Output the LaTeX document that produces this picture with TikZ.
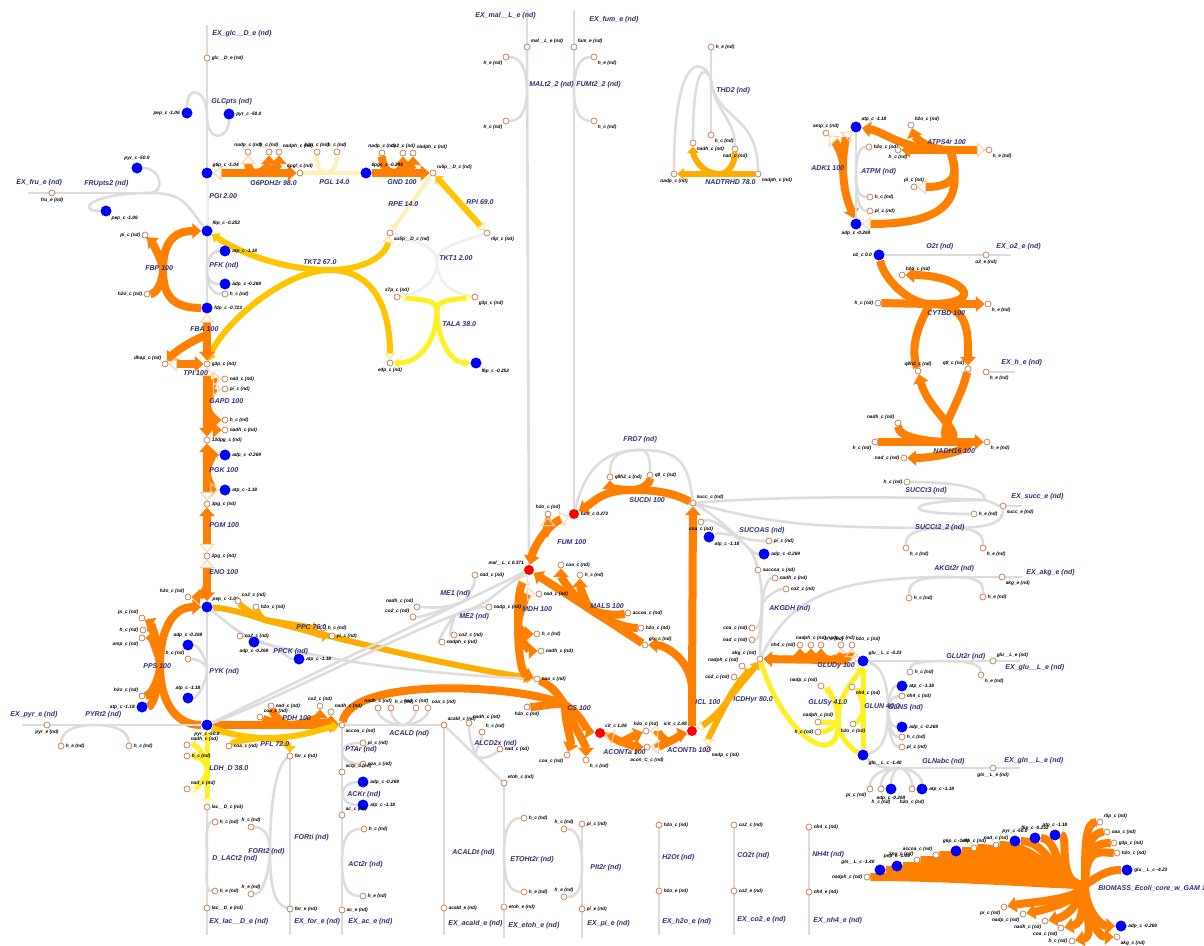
\documentclass[tikz,border=0pt]{standalone}
\usepackage{fontspec}
\setmainfont{Liberation Sans}
\usepackage{tikz}
\usetikzlibrary{arrows.meta}
\definecolor{rxnnavy}{HTML}{2E2E7A}
\definecolor{fluxor}{HTML}{FF7F00}
\definecolor{fluxam}{HTML}{FFAE00}
\definecolor{fluxgold}{HTML}{FFC400}
\definecolor{fluxye}{HTML}{FFF126}
\definecolor{fluxpale}{HTML}{FFF0B5}
\definecolor{ndgray}{HTML}{DCDCDC}
\definecolor{faintgray}{HTML}{F0F0F0}
\definecolor{metedge}{HTML}{C47A4E}
\definecolor{metblue}{HTML}{0000FF}
\definecolor{metred}{HTML}{FF0000}
\colorlet{revor}{fluxor!35}
\colorlet{revam}{fluxgold!45}
\colorlet{revye}{fluxye!60}
\pgfdeclarelayer{lines}
\pgfsetlayers{lines,main}
\catcode`\_=12

\begin{document}
\begin{tikzpicture}[x=0.5pt, y=-0.5pt,
    met/.style={circle, draw=metedge, fill=white, line width=0.35pt, inner sep=0pt, minimum size=3pt},
    mblue/.style={circle, fill=metblue, inner sep=0pt, minimum size=5.5pt},
    mred/.style={circle, fill=metred, inner sep=0pt, minimum size=5pt},
    mlab/.style={font=\fontsize{2.4}{2.6}\selectfont\bfseries\itshape, text=black, inner sep=0.5pt},
    rlab/.style={font=\fontsize{3.5}{4}\selectfont\bfseries\itshape, text=rxnnavy, inner sep=0pt, anchor=west},
    nd/.style={draw=ndgray, line width=1.3pt},
    faint/.style={draw=faintgray, line width=1.5pt},
    f100/.style={draw=fluxor, line width=4pt},
    f78/.style={draw=fluxam, line width=3pt},
    f70/.style={draw=fluxgold, line width=3pt},
    f38/.style={draw=fluxye, line width=2.5pt},
    f14/.style={draw=fluxpale, line width=2pt},
    fwd/.style={-{Triangle[length=0pt 1.1, width=0pt 1.9]}},
    back/.style={{Triangle[open, color=revor, line width=0.5pt, length=4.4pt, width=7.6pt]}-},
    dual/.style={{Triangle[open, color=revor, line width=0.5pt, length=4.4pt, width=7.6pt]}-{Triangle[length=4.4pt, width=7.6pt]}},
    backam/.style={{Triangle[open, color=revam, line width=0.5pt, length=3.3pt, width=5.7pt]}-},
    dualam/.style={{Triangle[open, color=revam, line width=0.5pt, length=3.3pt, width=5.7pt]}-{Triangle[length=3.3pt, width=5.7pt]}},
    backye/.style={{Triangle[open, color=revye, line width=0.5pt, length=2.8pt, width=4.8pt]}-},
    dualye/.style={{Triangle[open, color=revye, line width=0.5pt, length=2.8pt, width=4.8pt]}-{Triangle[length=2.8pt, width=4.8pt]}},
    dualpa/.style={{Triangle[open, color=fluxpale, line width=0.5pt, length=2.2pt, width=3.8pt]}-{Triangle[length=2.2pt, width=3.8pt]}}
  ]
  \useasboundingbox (0,0) rectangle (1204,946);

  % glycolysis and pentose phosphate
  \node[met, label={[mlab]right:glc__D_e (nd)}] (glce) at (207,58) {};
  \node[mblue, label={[mlab]left:pep_c -1.06}] (pepA) at (187,113) {};
  \node[mblue, label={[mlab]right:pyr_c -50.0}] (pyrA) at (229,114) {};
  \node[mblue, label={[mlab]above right:g6p_c -1.04}] (g6p) at (207,173) {};
  \node[met, label={[mlab]above:nadp_c (nd)}] (nadpA) at (248,152) {};
  \node[met, label={[mlab]above:h_c (nd)}] (hA) at (269,152) {};
  \node[met, label={[mlab]above right:nadph_c (nd)}] (nadphA) at (279,152) {};
  \node[met, label={[mlab]above:6pgl_c (nd)}] (pgl6) at (300,173) {};
  \node[met, label={[mlab]above:h2o_c (nd)}] (h2oA) at (317,152) {};
  \node[met, label={[mlab]above:h_c (nd)}] (hB) at (337,152) {};
  \node[mblue, label={[mlab]above right:6pgc_c -0.295}] (pgc6) at (366,173) {};
  \node[met, label={[mlab]above:nadp_c (nd)}] (nadpB) at (382,153) {};
  \node[met, label={[mlab]above:co2_c (nd)}] (co2A) at (403,153) {};
  \node[met, label={[mlab]above right:nadph_c (nd)}] (nadphB) at (413,153) {};
  \node[met, label={[mlab]above right:ru5p__D_c (nd)}] (ru5p) at (433,173) {};
  \node[met, label={[mlab]below right:xu5p__D_c (nd)}] (xu5p) at (390,233) {};
  \node[met, label={[mlab]below right:r5p_c (nd)}] (r5p) at (487,233) {};
  \node[met, label={[mlab]above:s7p_c (nd)}] (s7p) at (397,297) {};
  \node[met, label={[mlab]below right:g3p_c (nd)}] (g3pB) at (475,297) {};
  \node[met, label={[mlab]below:e4p_c (nd)}] (e4p) at (390,363) {};
  \node[mblue, label={[mlab]below right:f6p_c -0.252}] (f6pB) at (476,363) {};
  \node[mblue, label={[mlab]above right:f6p_c -0.252}] (f6p) at (207,231) {};
  \node[met, label={[mlab]below:fru_e (nd)}] (frue) at (52,193) {};
  \node[mblue, label={[mlab]above:pyr_c -50.0}] (pyrB) at (137,168) {};
  \node[mblue, label={[mlab]below right:pep_c -1.06}] (pepB) at (106,211) {};
  \node[mblue, label={[mlab]right:atp_c -1.18}] (atpA) at (225,251) {};
  \node[mblue, label={[mlab]right:adp_c -0.269}] (adpA) at (225,284) {};
  \node[met, label={[mlab]right:h_c (nd)}] (hC) at (225,294) {};
  \node[met, label={[mlab]left:pi_c (nd)}] (piA) at (145,235) {};
  \node[met, label={[mlab]left:h2o_c (nd)}] (h2oB) at (147,294) {};
  \node[mblue, label={[mlab]right:fdp_c -0.723}] (fdp) at (207,308) {};
  \node[met, label={[mlab]above left:dhap_c (nd)}] (dhap) at (165,364) {};
  \node[met, label={[mlab]right:g3p_c (nd)}] (g3p) at (207,364) {};
  \node[met, label={[mlab]right:nad_c (nd)}] (nadA) at (225,379) {};
  \node[met, label={[mlab]right:pi_c (nd)}] (piB) at (225,389) {};
  \node[met, label={[mlab]right:h_c (nd)}] (hD) at (225,420) {};
  \node[met, label={[mlab]right:nadh_c (nd)}] (nadhA) at (225,430) {};
  \node[met, label={[mlab]right:13dpg_c (nd)}] (dpg13) at (207,440) {};
  \node[mblue, label={[mlab]right:adp_c -0.269}] (adpB) at (225,455) {};
  \node[mblue, label={[mlab]right:atp_c -1.18}] (atpB) at (225,490) {};
  \node[met, label={[mlab]right:3pg_c (nd)}] (pg3) at (207,504) {};
  \node[met, label={[mlab]right:2pg_c (nd)}] (pg2) at (207,556) {};
  \node[met, label={[mlab]above left:h2o_c (nd)}] (h2oC) at (188,597) {};
  \node[mblue, label={[mlab]above right:pep_c -1.06}] (pep) at (207,607) {};
  \node[met, label={[mlab]above right:co2_c (nd)}] (co2B) at (238,601) {};
  \node[met, label={[mlab]right:h2o_c (nd)}] (h2oD) at (256,607) {};
  \node[met, label={[mlab]right:h_c (nd)}] (hE) at (323,628) {};
  \node[met, label={[mlab]right:pi_c (nd)}] (piC) at (332,636) {};
  \node[met, label={[mlab]right:co2_c (nd)}] (co2C) at (240,636) {};
  \node[mblue, label={[mlab]below:adp_c -0.269}] (adpP) at (254,642) {};
  \node[mblue, label={[mlab]right:atp_c -1.18}] (atpC) at (299,659) {};
  \node[met, label={[mlab]above left:pi_c (nd)}] (piD) at (142,618) {};
  \node[met, label={[mlab]left:h_c (nd)}] (hF) at (143,630) {};
  \node[met, label={[mlab]below left:amp_c (nd)}] (ampA) at (142,638) {};
  \node[met, label={[mlab]above left:h2o_c (nd)}] (h2oE) at (142,696) {};
  \node[mblue, label={[mlab]left:atp_c -1.18}] (atpD) at (142,707) {};
  \node[mblue, label={[mlab]above:adp_c -0.269}] (adpC) at (188,645) {};
  \node[met, label={[mlab]above left:h_c (nd)}] (hG) at (188,659) {};
  \node[mblue, label={[mlab]above:atp_c -1.18}] (atpE) at (188,698) {};
  \node[mblue, label={[mlab]below:pyr_c -50.0}] (pyr) at (207,725) {};
  \node[met, label={[mlab]below:pyr_e (nd)}] (pyre) at (47,725) {};
  \node[met, label={[mlab]right:h_e (nd)}] (heA) at (61,746) {};
  \node[met, label={[mlab]right:h_c (nd)}] (hH) at (129,746) {};

  % pyruvate to fermentation products
  \node[met, label={[mlab]above right:coa_c (nd)}] (coaA) at (260,717) {};
  \node[met, label={[mlab]right:nad_c (nd)}] (nadB) at (271,706) {};
  \node[met, label={[mlab]above:co2_c (nd)}] (co2D) at (320,706) {};
  \node[met, label={[mlab]above right:nadh_c (nd)}] (nadhB) at (331,712) {};
  \node[met, label={[mlab]below right:accoa_c (nd)}] (accoa) at (342,725) {};
  \node[met, label={[mlab]right:coa_c (nd)}] (coaB) at (229,746) {};
  \node[met, label={[mlab]right:for_c (nd)}] (forc) at (290,756) {};
  \node[met, label={[mlab]above right:nadh_c (nd)}] (nadhC) at (187,745) {};
  \node[met, label={[mlab]right:h_c (nd)}] (hI) at (187,756) {};
  \node[met, label={[mlab]above right:nad_c (nd)}] (nadC) at (187,789) {};
  \node[met, label={[mlab]right:lac__D_c (nd)}] (lacc) at (207,807) {};
  \node[met, label={[mlab]right:h_c (nd)}] (hJ) at (215,822) {};
  \node[met, label={[mlab]right:h_e (nd)}] (heB) at (215,891) {};
  \node[met, label={[mlab]right:lac__D_e (nd)}] (lace) at (207,908) {};
  \node[met, label={[mlab]above:h_c (nd)}] (hK) at (251,827) {};
  \node[met, label={[mlab]above:h_e (nd)}] (heC) at (251,894) {};
  \node[met, label={[mlab]right:for_e (nd)}] (fore) at (290,909) {};
  \node[met, label={[mlab]right:pi_c (nd)}] (piE) at (363,743) {};
  \node[met, label={[mlab]right:coa_c (nd)}] (coaC) at (363,764) {};
  \node[met, label={[mlab]above right:actp_c (nd)}] (actp) at (342,772) {};
  \node[mblue, label={[mlab]right:adp_c -0.269}] (adpD) at (363,782) {};
  \node[mblue, label={[mlab]right:atp_c -1.18}] (atpF) at (363,805) {};
  \node[met, label={[mlab]above right:ac_c (nd)}] (acc) at (342,815) {};
  \node[met, label={[mlab]right:h_c (nd)}] (hL) at (364,829) {};
  \node[met, label={[mlab]right:h_e (nd)}] (heD) at (363,896) {};
  \node[met, label={[mlab]right:ac_e (nd)}] (ace) at (342,910) {};
  \node[met, label={[mlab]above:nadh_c (nd)}] (nadhD) at (378,708) {};
  \node[met, label={[mlab]above right:h_c (nd)}] (hM) at (391,708) {};
  \node[met, label={[mlab]above:nad_c (nd)}] (nadD) at (416,708) {};
  \node[met, label={[mlab]above right:coa_c (nd)}] (coaD) at (428,708) {};
  \node[met, label={[mlab]above right:acald_c (nd)}] (acald) at (444,725) {};
  \node[met, label={[mlab]above right:nadh_c (nd)}] (nadhE) at (469,723) {};
  \node[met, label={[mlab]above right:h_c (nd)}] (hN) at (482,732) {};
  \node[met, label={[mlab]right:nad_c (nd)}] (nadE) at (500,749) {};
  \node[met, label={[mlab]above right:etoh_c (nd)}] (etoh) at (504,783) {};
  \node[met, label={[mlab]right:acald_e (nd)}] (acalde) at (444,908) {};
  \node[met, label={[mlab]right:h_c (nd)}] (hO) at (524,818) {};
  \node[met, label={[mlab]right:h_e (nd)}] (heE) at (524,892) {};
  \node[met, label={[mlab]right:etoh_e (nd)}] (etohe) at (504,907) {};
  \node[met, label={[mlab]above:h_c (nd)}] (hP) at (564,829) {};
  \node[met, label={[mlab]right:pi_c (nd)}] (piF) at (582,824) {};
  \node[met, label={[mlab]above:h_e (nd)}] (heF) at (564,897) {};
  \node[met, label={[mlab]right:pi_e (nd)}] (pie) at (582,909) {};
  \node[met, label={[mlab]right:h2o_c (nd)}] (h2oF) at (659,825) {};
  \node[met, label={[mlab]right:h2o_e (nd)}] (h2oe) at (659,891) {};
  \node[met, label={[mlab]right:co2_c (nd)}] (co2E) at (734,825) {};
  \node[met, label={[mlab]right:co2_e (nd)}] (co2e) at (734,891) {};
  \node[met, label={[mlab]right:nh4_c (nd)}] (nh4A) at (809,827) {};
  \node[met, label={[mlab]right:nh4_e (nd)}] (nh4e) at (809,892) {};

  % transport at the top
  \node[met, label={[mlab]above right:mal__L_e (nd)}] (malLe) at (527,47) {};
  \node[met, label={[mlab]above right:fum_e (nd)}] (fume) at (574,47) {};
  \node[met, label={[mlab]below left:h_e (nd)}] (heG) at (506,57) {};
  \node[met, label={[mlab]below left:h_c (nd)}] (hQ) at (506,121) {};
  \node[met, label={[mlab]below right:h_e (nd)}] (heH) at (594,57) {};
  \node[met, label={[mlab]below right:h_c (nd)}] (hR) at (594,121) {};
  \node[met, label={[mlab]right:h_e (nd)}] (heI) at (711,47) {};
  \node[met, label={[mlab]below right:h_c (nd)}] (hS) at (711,135) {};
  \node[met, label={[mlab]below right:nadh_c (nd)}] (nadhF) at (693,143) {};
  \node[met, label={[mlab]below:nad_c (nd)}] (nadF) at (735,149) {};
  \node[met, label={[mlab]below:nadp_c (nd)}] (nadpC) at (674,174) {};
  \node[met, label={[mlab]below right:nadph_c (nd)}] (nadphC) at (758,174) {};

  % energy
  \node[met, label={[mlab]above:amp_c (nd)}] (ampB) at (826,133) {};
  \node[mblue, label={[mlab]above right:atp_c -1.18}] (atpG) at (856,127) {};
  \node[mblue, label={[mlab]below:adp_c -0.269}] (adpE) at (856,224) {};
  \node[met, label={[mlab]right:h2o_c (nd)}] (h2oG) at (869,147) {};
  \node[met, label={[mlab]below:h_c (nd)}] (hT) at (898,150) {};
  \node[met, label={[mlab]right:h_c (nd)}] (hU) at (870,197) {};
  \node[met, label={[mlab]right:pi_c (nd)}] (piG) at (870,211) {};
  \node[met, label={[mlab]above right:h2o_c (nd)}] (h2oH) at (911,125) {};
  \node[met, label={[mlab]below right:h_e (nd)}] (heJ) at (989,150) {};
  \node[met, label={[mlab]above:pi_c (nd)}] (piH) at (914,187) {};
  \node[mblue, label={[mlab]left:o2_c 0.0}] (o2c) at (879,255) {};
  \node[met, label={[mlab]below:o2_e (nd)}] (o2e) at (986,255) {};
  \node[met, label={[mlab]above right:h2o_c (nd)}] (h2oI) at (902,275) {};
  \node[met, label={[mlab]left:h_c (nd)}] (hV) at (878,303) {};
  \node[met, label={[mlab]below right:h_e (nd)}] (heK) at (988,304) {};
  \node[met, label={[mlab]above:q8h2_c (nd)}] (q8h2) at (918,371) {};
  \node[met, label={[mlab]above left:q8_c (nd)}] (q8) at (968,369) {};
  \node[met, label={[mlab]below right:h_e (nd)}] (heL) at (986,372) {};
  \node[met, label={[mlab]above left:nadh_c (nd)}] (nadhG) at (898,423) {};
  \node[met, label={[mlab]below left:h_c (nd)}] (hW) at (875,442) {};
  \node[met, label={[mlab]left:nad_c (nd)}] (nadG) at (904,458) {};
  \node[met, label={[mlab]below right:h_e (nd)}] (heM) at (987,442) {};
  \node[met, label={[mlab]left:h_c (nd)}] (hX) at (907,482) {};
  \node[met, label={[mlab]right:h_e (nd)}] (heN) at (974,514) {};
  \node[met, label={[mlab]below right:succ_e (nd)}] (succe) at (1003,506) {};
  \node[met, label={[mlab]below right:h_c (nd)}] (hY) at (906,548) {};
  \node[met, label={[mlab]below right:h_e (nd)}] (heO) at (983,548) {};
  \node[met, label={[mlab]below right:akg_e (nd)}] (akge) at (1002,577) {};
  \node[met, label={[mlab]right:h_c (nd)}] (hZ) at (909,598) {};
  \node[met, label={[mlab]right:h_e (nd)}] (heP) at (983,597) {};

  % TCA cycle
  \node[mred, label={[mlab]right:fum_c 0.272}] (fum) at (574,514) {};
  \node[met, label={[mlab]above:h2o_c (nd)}] (h2oK) at (548,514) {};
  \node[mred, label={[mlab]above left:mal__L_c 0.371}] (mal) at (529,570) {};
  \node[met, label={[mlab]right:coa_c (nd)}] (coaG) at (561,565) {};
  \node[met, label={[mlab]right:h_c (nd)}] (hAA) at (580,575) {};
  \node[met, label={[mlab]right:nad_c (nd)}] (nadJ) at (539,594) {};
  \node[met, label={[mlab]right:nad_c (nd)}] (nadK) at (475,575) {};
  \node[met, label={[mlab]above left:nadh_c (nd)}] (nadhI) at (417,607) {};
  \node[met, label={[mlab]above left:co2_c (nd)}] (co2H) at (413,617) {};
  \node[met, label={[mlab]right:nadp_c (nd)}] (nadpE) at (489,607) {};
  \node[met, label={[mlab]right:co2_c (nd)}] (co2I) at (454,635) {};
  \node[met, label={[mlab]right:nadph_c (nd)}] (nadphE) at (442,642) {};
  \node[met, label={[mlab]right:h_c (nd)}] (hAB) at (537,634) {};
  \node[met, label={[mlab]right:nadh_c (nd)}] (nadhJ) at (541,651) {};
  \node[met, label={[mlab]right:accoa_c (nd)}] (accoaB) at (628,613) {};
  \node[met, label={[mlab]right:h2o_c (nd)}] (h2oL) at (641,628) {};
  \node[met, label={[mlab]above right:glx_c (nd)}] (glx) at (645,645) {};
  \node[met, label={[mlab]right:oaa_c (nd)}] (oaa) at (537,679) {};
  \node[met, label={[mlab]below:h2o_c (nd)}] (h2oM) at (527,707) {};
  \node[met, label={[mlab]below left:coa_c (nd)}] (coaH) at (567,755) {};
  \node[met, label={[mlab]below right:h_c (nd)}] (hAC) at (586,760) {};
  \node[mred, label={[mlab]above right:cit_c 1.08}] (cit) at (600,733) {};
  \node[met, label={[mlab]above:h2o_c (nd)}] (h2oJ) at (646,731) {};
  \node[met, label={[mlab, yshift=-3pt]below:acon_C_c (nd)}] (aconC) at (647,747) {};
  \node[mred, label={[mlab]above left:icit_c 2.48}] (icit) at (692,731) {};
  \node[met, label={[mlab]below right:nadp_c (nd)}] (nadpD) at (708,749) {};
  \node[met, label={[mlab]left:co2_c (nd)}] (co2F) at (734,677) {};
  \node[met, label={[mlab]above left:nadph_c (nd)}] (nadphD) at (742,666) {};
  \node[met, label={[mlab]above left:akg_c (nd)}] (akg) at (760,659) {};
  \node[met, label={[mlab]left:coa_c (nd)}] (coaE) at (752,628) {};
  \node[met, label={[mlab]left:nad_c (nd)}] (nadI) at (752,640) {};
  \node[met, label={[mlab]right:succoa_c (nd)}] (succoa) at (758,570) {};
  \node[met, label={[mlab]right:nadh_c (nd)}] (nadhH) at (775,578) {};
  \node[met, label={[mlab]right:co2_c (nd)}] (co2G) at (786,589) {};
  \node[met, label={[mlab]below:coa_c (nd)}] (coaF) at (701,522) {};
  \node[mblue, label={[mlab]below right:atp_c -1.18}] (atpH) at (709,537) {};
  \node[met, label={[mlab]right:pi_c (nd)}] (piI) at (769,541) {};
  \node[mblue, label={[mlab]right:adp_c -0.269}] (adpF) at (764,554) {};
  \node[met, label={[mlab]above right:succ_c (nd)}] (succ) at (693,503) {};
  \node[met, label={[mlab]right:q8h2_c (nd)}] (q8h2B) at (610,477) {};
  \node[met, label={[mlab]right:q8_c (nd)}] (q8B) at (650,475) {};

  % glutamate and glutamine
  \node[mblue, label={[mlab]above right:glu__L_c -4.23}] (glu) at (863,661) {};
  \node[met, label={[mlab]left:nh4_c (nd)}] (nh4B) at (800,645) {};
  \node[met, label={[mlab]above:nadph_c (nd)}] (nadphH) at (811,645) {};
  \node[met, label={[mlab]above right:h_c (nd)}] (hAI) at (821,645) {};
  \node[met, label={[mlab]above:nadp_c (nd)}] (nadpH) at (841,645) {};
  \node[met, label={[mlab]above right:h2o_c (nd)}] (h2oQ) at (852,645) {};
  \node[met, label={[mlab]above left:nadp_c (nd)}] (nadpF) at (821,686) {};
  \node[met, label={[mlab]above:nadph_c (nd)}] (nadphF) at (818,722) {};
  \node[met, label={[mlab]left:h_c (nd)}] (hAD) at (818,732) {};
  \node[met, label={[mlab]below right:nh4_c (nd)}] (nh4C) at (852,687) {};
  \node[met, label={[mlab]below:h2o_c (nd)}] (h2oN) at (853,724) {};
  \node[mblue, label={[mlab]below right:gln__L_c -1.40}] (gln) at (863,755) {};
  \node[mblue, label={[mlab]right:atp_c -1.18}] (atpI) at (902,686) {};
  \node[met, label={[mlab]right:nh4_c (nd)}] (nh4D) at (902,696) {};
  \node[mblue, label={[mlab]right:adp_c -0.269}] (adpG) at (902,727) {};
  \node[met, label={[mlab]right:h_c (nd)}] (hAE) at (902,737) {};
  \node[met, label={[mlab]right:pi_c (nd)}] (piJ) at (902,747) {};
  \node[met, label={[mlab]right:h_c (nd)}] (hAF) at (910,672) {};
  \node[met, label={[mlab]below right:h_e (nd)}] (heQ) at (981,675) {};
  \node[met, label={[mlab]above right:glu__L_e (nd)}] (glue) at (993,661) {};
  \node[met, label={[mlab]below:gln__L_e (nd)}] (glne) at (993,768) {};
  \node[met, label={[mlab]below left:pi_c (nd)}] (piK) at (870,789) {};
  \node[met, label={[mlab, yshift=-3pt]below:h_c (nd)}] (hAG) at (881,789) {};
  \node[mblue, label={[mlab]below:adp_c -0.269}] (adpH) at (891,789) {};
  \node[met, label={[mlab, yshift=-3pt]below:h2o_c (nd)}] (h2oO) at (912,789) {};
  \node[mblue, label={[mlab]right:atp_c -1.18}] (atpJ) at (922,789) {};

  % biomass
  \node[met, label={[mlab]left:nadph_c (nd)}] (nadphG) at (867,877) {};
  \node[mblue, label={[mlab]above left:gln__L_c -1.40}] (glnB) at (880,870) {};
  \node[mblue, label={[mlab]above:pep_c -1.06}] (pepC) at (897,866) {};
  \node[met, label={[mlab]above left:3pg_c (nd)}] (pg3B) at (917,860) {};
  \node[met, label={[mlab]above left:accoa_c (nd)}] (accoaC) at (936,855) {};
  \node[mblue, label={[mlab]above:g6p_c -1.04}] (g6pB) at (956,851) {};
  \node[met, label={[mlab]above:e4p_c (nd)}] (e4pB) at (974,848) {};
  \node[met, label={[mlab]above:nad_c (nd)}] (nadL) at (996,845) {};
  \node[mblue, label={[mlab]above:pyr_c -50.0}] (pyrC) at (1015,841) {};
  \node[mblue, label={[mlab]above:f6p_c -0.252}] (f6pC) at (1035,838) {};
  \node[mblue, label={[mlab]above:atp_c -1.18}] (atpK) at (1055,835) {};
  \node[met, label={[mlab]above right:r5p_c (nd)}] (r5pB) at (1100,822) {};
  \node[met, label={[mlab]right:oaa_c (nd)}] (oaaB) at (1107,832) {};
  \node[met, label={[mlab]right:g3p_c (nd)}] (g3pC) at (1114,843) {};
  \node[met, label={[mlab]right:h2o_c (nd)}] (h2oP) at (1117,853) {};
  \node[mblue, label={[mlab]right:glu__L_c -4.23}] (gluB) at (1127,870) {};
  \node[met, label={[mlab]below left:pi_c (nd)}] (piL) at (1004,907) {};
  \node[met, label={[mlab]below left:nadp_c (nd)}] (nadpG) at (1023,914) {};
  \node[met, label={[mlab]below left:nadh_c (nd)}] (nadhK) at (1045,921) {};
  \node[met, label={[mlab]below left:coa_c (nd)}] (coaI) at (1061,928) {};
  \node[met, label={[mlab]left:h_c (nd)}] (hAH) at (1072,941) {};
  \node[mblue, label={[mlab]right:adp_c -0.269}] (adpI) at (1121,926) {};
  \node[met, label={[mlab]below right:akg_c (nd)}] (akgB) at (1117,937) {};

  % reaction centres and free ends
  \coordinate (glcptsc) at (207,115);
  \coordinate (g6pdh) at (255,173);
  \coordinate (pglc) at (325,173);
  \coordinate (gndc) at (393,173);
  \coordinate (tkt1c) at (437,262);
  \coordinate (tkt2c) at (330,270);
  \coordinate (talac) at (437,310);
  \coordinate (frupc) at (150,193);
  \coordinate (pfkc) at (207,270);
  \coordinate (fbpc) at (163,270);
  \coordinate (fbac) at (207,335);
  \coordinate (gapdc) at (207,405);
  \coordinate (pgkc) at (207,472);
  \coordinate (enoc) at (207,585);
  \coordinate (ppcc) at (265,620);
  \coordinate (ppckc) at (270,645);
  \coordinate (ppsc) at (160,666);
  \coordinate (pykc) at (207,670);
  \coordinate (pyrtc) at (95,725);
  \coordinate (pdhc) at (290,725);
  \coordinate (pflc) at (265,738);
  \coordinate (ldhc) at (207,770);
  \coordinate (dlactc) at (207,860);
  \coordinate (fort2c) at (270,850);
  \coordinate (ptarc) at (342,752);
  \coordinate (ackrc) at (342,794);
  \coordinate (act2c) at (342,862);
  \coordinate (acaldc) at (403,725);
  \coordinate (alcdc) at (476,756);
  \coordinate (etohtc) at (504,855);
  \coordinate (pit2c) at (582,866);
  \coordinate (me1c) at (462,602);
  \coordinate (me2c) at (455,615);
  \coordinate (malt2c) at (527,90);
  \coordinate (fumt2c) at (574,90);
  \coordinate (thd2c) at (711,80);
  \coordinate (nadtrc) at (720,174);
  \coordinate (adk1c) at (843,165);
  \coordinate (atpmc) at (856,175);
  \coordinate (atps4c) at (950,150);
  \coordinate (cytc) at (930,304);
  \coordinate (nadhc) at (950,442);
  \coordinate (sc3) at (985,500);
  \coordinate (sc2) at (950,528);
  \coordinate (akgtc) at (950,577);
  \coordinate (fumc) at (544,536);
  \coordinate (mdhc) at (518,625);
  \coordinate (malsc) at (590,609);
  \coordinate (sucdc) at (632,490);
  \coordinate (frdc) at (640,450);
  \coordinate (csc) at (565,705);
  \coordinate (acac) at (622,742);
  \coordinate (acbc) at (668,742);
  \coordinate (iclc) at (692,690);
  \coordinate (icdc) at (728,700);
  \coordinate (akgdhc) at (762,605);
  \coordinate (sucoasc) at (735,535);
  \coordinate (gludyc) at (830,660);
  \coordinate (glusyc) at (838,722);
  \coordinate (glunc) at (863,710);
  \coordinate (glnsc) at (888,710);
  \coordinate (glutc) at (946,661);
  \coordinate (glnabc) at (900,768);
  \coordinate (bio) at (1085,885);
  \coordinate (glcend) at (207,25);
  \coordinate (fruend) at (28,193);
  \coordinate (pyrend) at (22,725);
  \coordinate (lacend) at (207,935);
  \coordinate (forend) at (290,935);
  \coordinate (acend) at (342,935);
  \coordinate (acaldend) at (444,935);
  \coordinate (etohend) at (504,938);
  \coordinate (piend) at (582,938);
  \coordinate (h2oend) at (659,935);
  \coordinate (co2end) at (734,935);
  \coordinate (nh4end) at (809,935);
  \coordinate (malend) at (527,10);
  \coordinate (fumend) at (574,10);
  \coordinate (o2end) at (1011,255);
  \coordinate (hexend) at (1015,372);
  \coordinate (succend) at (1022,506);
  \coordinate (akgend) at (1022,577);
  \coordinate (gluend) at (1020,661);
  \coordinate (glnend) at (1020,768);

  % reaction labels
  \node[rlab] (texglc) at (212,34) {EX_glc__D_e (nd)};
  \node[rlab] (tglcpts) at (211,102) {GLCpts (nd)};
  \node[rlab] (tg6pdh) at (250,183) {G6PDH2r 98.0};
  \node[rlab] (tpgl) at (319,182) {PGL 14.0};
  \node[rlab] (tgnd) at (387,182) {GND 100};
  \node[rlab] (trpe) at (388,204) {RPE 14.0};
  \node[rlab] (trpi) at (466,202) {RPI 69.0};
  \node[rlab] (ttkt1) at (439,258) {TKT1 2.00};
  \node[rlab] (ttkt2) at (303,262) {TKT2 67.0};
  \node[rlab] (ttala) at (442,324) {TALA 38.0};
  \node[rlab] (tpgi) at (209,196) {PGI 2.00};
  \node[rlab] (texfru) at (16,183) {EX_fru_e (nd)};
  \node[rlab] (tfrupts) at (84,184) {FRUpts2 (nd)};
  \node[rlab] (tpfk) at (209,266) {PFK (nd)};
  \node[rlab] (tfbp) at (145,268) {FBP 100};
  \node[rlab] (tfba) at (190,329) {FBA 100};
  \node[rlab] (ttpi) at (183,373) {TPI 100};
  \node[rlab] (tgapd) at (209,401) {GAPD 100};
  \node[rlab] (tpgk) at (209,470) {PGK 100};
  \node[rlab] (tpgm) at (209,525) {PGM 100};
  \node[rlab] (teno) at (209,572) {ENO 100};
  \node[rlab] (tppc) at (296,627) {PPC 76.0};
  \node[rlab] (tppck) at (273,652) {PPCK (nd)};
  \node[rlab] (tpps) at (143,666) {PPS 100};
  \node[rlab] (tpyk) at (209,672) {PYK (nd)};
  \node[rlab] (texpyr) at (10,715) {EX_pyr_e (nd)};
  \node[rlab] (tpyrt) at (85,715) {PYRt2 (nd)};
  \node[rlab] (tpdh) at (282,718) {PDH 100};
  \node[rlab] (tpfl) at (260,744) {PFL 72.0};
  \node[rlab] (tldh) at (209,768) {LDH_D 38.0};
  \node[rlab] (tdlact) at (212,859) {D_LACt2 (nd)};
  \node[rlab] (tfort2) at (248,852) {FORt2 (nd)};
  \node[rlab] (tforti) at (294,838) {FORti (nd)};
  \node[rlab] (texlac) at (209,922) {EX_lac__D_e (nd)};
  \node[rlab] (texfor) at (294,922) {EX_for_e (nd)};
  \node[rlab] (tacald) at (389,734) {ACALD (nd)};
  \node[rlab] (tptar) at (345,750) {PTAr (nd)};
  \node[rlab] (tackr) at (347,795) {ACKr (nd)};
  \node[rlab] (tact2) at (348,865) {ACt2r (nd)};
  \node[rlab] (texac) at (348,922) {EX_ac_e (nd)};
  \node[rlab] (talcd) at (474,744) {ALCD2x (nd)};
  \node[rlab] (tacaldt) at (452,853) {ACALDt (nd)};
  \node[rlab] (texacald) at (448,924) {EX_acald_e (nd)};
  \node[rlab] (tetoht) at (510,860) {ETOHt2r (nd)};
  \node[rlab] (texetoh) at (508,926) {EX_etoh_e (nd)};
  \node[rlab] (tpit2) at (590,868) {PIt2r (nd)};
  \node[rlab] (texpi) at (587,924) {EX_pi_e (nd)};
  \node[rlab] (th2ot) at (662,858) {H2Ot (nd)};
  \node[rlab] (texh2o) at (662,922) {EX_h2o_e (nd)};
  \node[rlab] (tco2t) at (737,856) {CO2t (nd)};
  \node[rlab] (texco2) at (737,920) {EX_co2_e (nd)};
  \node[rlab] (tnh4t) at (812,855) {NH4t (nd)};
  \node[rlab] (texnh4) at (813,921) {EX_nh4_e (nd)};
  \node[rlab] (tme1) at (440,594) {ME1 (nd)};
  \node[rlab] (tme2) at (459,617) {ME2 (nd)};
  \node[rlab] (tmdh) at (522,609) {MDH 100};
  \node[rlab] (tfum) at (557,542) {FUM 100};
  \node[rlab] (tsucdi) at (629,500) {SUCDi 100};
  \node[rlab] (tfrd) at (623,440) {FRD7 (nd)};
  \node[rlab] (tmals) at (590,606) {MALS 100};
  \node[rlab] (tcs) at (567,708) {CS 100};
  \node[rlab] (tacnta) at (603,752) {ACONTa 100};
  \node[rlab] (tacntb) at (667,750) {ACONTb 100};
  \node[rlab] (ticl) at (695,702) {ICL 100};
  \node[rlab] (ticd) at (733,700) {ICDHyr 80.0};
  \node[rlab] (tsucoas) at (739,531) {SUCOAS (nd)};
  \node[rlab] (takgdh) at (769,609) {AKGDH (nd)};
  \node[rlab] (tgludy) at (817,666) {GLUDy 100};
  \node[rlab] (tglusy) at (808,703) {GLUSy 41.0};
  \node[rlab] (tglun) at (864,706) {GLUN 40.0};
  \node[rlab] (tglns) at (888,708) {GLNS (nd)};
  \node[rlab] (tglut) at (946,657) {GLUt2r (nd)};
  \node[rlab] (texglu) at (1005,668) {EX_glu__L_e (nd)};
  \node[rlab] (tglnabc) at (922,762) {GLNabc (nd)};
  \node[rlab] (texgln) at (1004,761) {EX_gln__L_e (nd)};
  \node[rlab] (takgt) at (934,569) {AKGt2r (nd)};
  \node[rlab] (texakg) at (1026,573) {EX_akg_e (nd)};
  \node[rlab] (tsucct3) at (905,491) {SUCCt3 (nd)};
  \node[rlab] (tsucct2) at (915,528) {SUCCt2_2 (nd)};
  \node[rlab] (texsucc) at (1011,497) {EX_succ_e (nd)};
  \node[rlab] (tnadh16) at (933,451) {NADH16 100};
  \node[rlab] (texh) at (1001,363) {EX_h_e (nd)};
  \node[rlab] (tcytbd) at (927,313) {CYTBD 100};
  \node[rlab] (to2t) at (926,247) {O2t (nd)};
  \node[rlab] (texo2) at (996,247) {EX_o2_e (nd)};
  \node[rlab] (tatps4) at (927,142) {ATPS4r 100};
  \node[rlab] (tatpm) at (861,172) {ATPM (nd)};
  \node[rlab] (tadk1) at (811,168) {ADK1 100};
  \node[rlab] (tthd2) at (716,91) {THD2 (nd)};
  \node[rlab] (tnadtr) at (705,182) {NADTRHD 78.0};
  \node[rlab] (texmal) at (475,16) {EX_mal__L_e (nd)};
  \node[rlab] (texfum) at (589,20) {EX_fum_e (nd)};
  \node[rlab] (tmalt) at (529,85) {MALt2_2 (nd)};
  \node[rlab] (tfumt) at (576,85) {FUMt2_2 (nd)};
  \node[rlab] (tbiomass) at (1098,888) {BIOMASS_Ecoli_core_w_GAM 100};

  \begin{pgfonlayer}{lines}
    \fill[white] (0,0) rectangle (1204,946);
    % exchanges and transport
    \draw[nd] (glcend) -- (glce);
    \draw[nd] (fruend) -- (frue);
    \draw[nd] (pyrend) -- (pyre);
    \draw[nd] (lace) -- (lacend);
    \draw[nd] (fore) -- (forend);
    \draw[nd] (ace) -- (acend);
    \draw[nd] (acalde) -- (acaldend);
    \draw[nd] (etohe) -- (etohend);
    \draw[nd] (pie) -- (piend);
    \draw[nd] (h2oe) -- (h2oend);
    \draw[nd] (co2e) -- (co2end);
    \draw[nd] (nh4e) -- (nh4end);
    \draw[nd] (malend) -- (malLe);
    \draw[nd] (fumend) -- (fume);
    \draw[nd] (o2e) -- (o2end);
    \draw[nd] (heL) -- (hexend);
    \draw[nd] (succe) -- (succend);
    \draw[nd] (akge) -- (akgend);
    \draw[nd] (glue) -- (gluend);
    \draw[nd] (glne) -- (glnend);
    \draw[nd] (h2oF) -- (h2oe);
    \draw[nd] (co2E) -- (co2e);
    \draw[nd] (nh4A) -- (nh4e);
    \draw[nd] (malLe) -- (mal);
    \draw[nd] (heG) .. controls +(15,0) and +(0,-20) .. (malt2c);
    \draw[nd] (malt2c) .. controls +(0,20) and +(15,0) .. (hQ);
    \draw[nd] (fume) -- (fum);
    \draw[nd] (heH) .. controls +(-15,0) and +(0,-20) .. (fumt2c);
    \draw[nd] (fumt2c) .. controls +(0,20) and +(-15,0) .. (hR);

    % glucose uptake and glycolysis
    \draw[nd] (glce) -- (g6p);
    \draw[nd] (pepA) .. controls +(0,-30) and +(0,-25) .. (glcptsc);
    \draw[nd] (glcptsc) .. controls +(0,30) and +(0,25) .. (pyrA);
    \draw[f100,dual] (g6p) -- (pgl6);
    \draw[f100,back] (nadpA) .. controls +(0,12) and +(-6,0) .. (g6pdh);
    \draw[f100,fwd] (g6pdh) .. controls +(10,0) and +(0,12) .. (hA);
    \draw[f100,fwd] (g6pdh) .. controls +(18,0) and +(0,12) .. (nadphA);
    \draw[f14,fwd] (pgl6) -- (pgc6);
    \draw[f14] (h2oA) .. controls +(0,12) and +(-6,0) .. (pglc);
    \draw[f14,fwd] (pglc) .. controls +(8,0) and +(0,12) .. (hB);
    \draw[f100,fwd] (pgc6) -- (ru5p);
    \draw[f100] (nadpB) .. controls +(0,12) and +(-6,0) .. (gndc);
    \draw[f100,fwd] (gndc) .. controls +(8,0) and +(0,12) .. (co2A);
    \draw[f100,fwd] (gndc) .. controls +(14,0) and +(0,12) .. (nadphB);
    \draw[f14,dualpa] (ru5p) -- (xu5p);
    \draw[f70,dualam] (r5p) -- (ru5p);
    \draw[faint] (xu5p) .. controls +(30,10) and +(0,-15) .. (tkt1c);
    \draw[faint] (r5p) .. controls +(-30,10) and +(0,-15) .. (tkt1c);
    \draw[faint] (tkt1c) .. controls +(0,15) and +(30,-5) .. (s7p);
    \draw[faint] (tkt1c) .. controls +(0,15) and +(-30,-5) .. (g3pB);
    \draw[f70,backam] (xu5p) .. controls +(-5,25) and +(30,0) .. (tkt2c);
    \draw[f70,backam] (e4p) .. controls +(0,-60) and +(40,0) .. (tkt2c);
    \draw[f70,fwd] (tkt2c) .. controls +(-50,0) and +(30,20) .. (f6p);
    \draw[f70,fwd] (tkt2c) .. controls +(-45,0) and +(15,-40) .. (g3p);
    \draw[f38,backye] (s7p) .. controls +(25,3) and +(0,-10) .. (talac);
    \draw[f38,backye] (g3pB) .. controls +(-25,3) and +(0,-10) .. (talac);
    \draw[f38,fwd] (talac) .. controls +(0,30) and +(30,0) .. (e4p);
    \draw[f38,fwd] (talac) .. controls +(0,30) and +(-25,0) .. (f6pB);
    \draw[faint] (g6p) -- (f6p);
    \draw[nd] (frue) -- (frupc);
    \draw[nd] (frupc) .. controls +(35,0) and +(-20,-25) .. (f6p);
    \draw[nd] (frupc) .. controls +(15,0) and +(25,0) .. (pyrB);
    \draw[nd] (frupc) .. controls +(-60,0) and +(-30,0) .. (pepB);
    \draw[nd] (f6p) -- (fdp);
    \draw[nd] (atpA) .. controls +(-15,0) and +(0,-8) .. (pfkc);
    \draw[nd] (pfkc) .. controls +(0,8) and +(-15,0) .. (adpA);
    \draw[nd] (pfkc) .. controls +(0,12) and +(-15,0) .. (hC);
    \draw[f100] (fdp) .. controls +(-35,0) and +(0,25) .. (fbpc);
    \draw[f100,fwd] (fbpc) .. controls +(0,-25) and +(-35,0) .. (f6p);
    \draw[f100] (h2oB) .. controls +(10,0) and +(0,10) .. (fbpc);
    \draw[f100,fwd] (fbpc) .. controls +(0,-10) and +(5,5) .. (piA);
    \draw[f100,back] (fdp) -- (fbac);
    \draw[f100,fwd] (fbac) -- (g3p);
    \draw[f100,fwd] (fbac) .. controls +(-15,5) and +(10,-12) .. (dhap);
    \draw[f100,dual] (dhap) -- (g3p);
    \draw[f100,dual] (g3p) -- (dpg13);
    \draw[f100,back] (nadA) .. controls +(-10,0) and +(0,-10) .. (gapdc);
    \draw[f100,back] (piB) .. controls +(-10,0) and +(0,-8) .. (gapdc);
    \draw[f100,fwd] (gapdc) .. controls +(0,8) and +(-10,0) .. (hD);
    \draw[f100,fwd] (gapdc) .. controls +(0,12) and +(-10,0) .. (nadhA);
    \draw[f100,dual] (pg3) -- (dpg13);
    \draw[f100,back] (atpB) .. controls +(-10,0) and +(0,10) .. (pgkc);
    \draw[f100,fwd] (pgkc) .. controls +(0,-10) and +(-10,0) .. (adpB);
    \draw[f100,dual] (pg2) -- (pg3);
    \draw[f100,dual] (pg2) -- (pep);
    \draw[f100,fwd] (enoc) .. controls +(0,8) and +(8,0) .. (h2oC);

    % anaplerosis and pyruvate node
    \draw[f78] (pep) .. controls +(25,2) and +(-15,-5) .. (ppcc);
    \draw[f78,fwd] (ppcc) .. controls +(80,20) and +(-100,-15) .. (oaa);
    \draw[f78] (co2B) .. controls +(5,8) and +(-8,-5) .. (ppcc);
    \draw[f78] (h2oD) .. controls +(2,6) and +(-5,-3) .. (ppcc);
    \draw[f78,fwd] (ppcc) .. controls +(30,5) and +(-8,0) .. (hE);
    \draw[f78,fwd] (ppcc) .. controls +(35,8) and +(-8,0) .. (piC);
    \draw[nd] (oaa) .. controls +(-120,-5) and +(60,15) .. (ppckc);
    \draw[nd] (ppckc) .. controls +(-30,-8) and +(20,15) .. (pep);
    \draw[nd] (atpC) .. controls +(-12,0) and +(10,3) .. (ppckc);
    \draw[nd] (ppckc) .. controls +(-10,-2) and +(8,0) .. (adpP);
    \draw[nd] (ppckc) .. controls +(-15,-5) and +(8,0) .. (co2C);
    \draw[f100] (pyr) .. controls +(-35,0) and +(0,30) .. (ppsc);
    \draw[f100,fwd] (ppsc) .. controls +(0,-35) and +(-35,0) .. (pep);
    \draw[f100] (h2oE) .. controls +(10,0) and +(0,10) .. (ppsc);
    \draw[f100] (atpD) .. controls +(12,0) and +(0,12) .. (ppsc);
    \draw[f100,fwd] (ppsc) .. controls +(0,-20) and +(8,5) .. (piD);
    \draw[f100,fwd] (ppsc) .. controls +(0,-15) and +(8,0) .. (hF);
    \draw[f100,fwd] (ppsc) .. controls +(0,-12) and +(8,0) .. (ampA);
    \draw[nd] (pep) -- (pyr);
    \draw[nd] (adpC) .. controls +(10,0) and +(0,-10) .. (pykc);
    \draw[nd] (hG) .. controls +(10,0) and +(0,-6) .. (pykc);
    \draw[nd] (pykc) .. controls +(0,10) and +(10,0) .. (atpE);
    \draw[nd] (pyre) -- (pyr);
    \draw[nd] (heA) .. controls +(0,-15) and +(-20,0) .. (pyrtc);
    \draw[nd] (pyrtc) .. controls +(20,0) and +(0,-15) .. (hH);
    \draw[f100,fwd] (pyr) -- (accoa);
    \draw[f100] (coaA) .. controls +(5,3) and +(-10,0) .. (pdhc);
    \draw[f100] (nadB) .. controls +(2,8) and +(-8,0) .. (pdhc);
    \draw[f100,fwd] (pdhc) .. controls +(15,0) and +(0,10) .. (co2D);
    \draw[f100,fwd] (pdhc) .. controls +(25,0) and +(0,8) .. (nadhB);
    \draw[f70] (pyr) .. controls +(15,8) and +(-15,0) .. (pflc);
    \draw[f70] (coaB) .. controls +(5,-5) and +(-8,0) .. (pflc);
    \draw[f70,fwd] (pflc) .. controls +(20,0) and +(0,-8) .. (forc);
    \draw[f70,fwd] (pflc) .. controls +(35,0) and +(-25,5) .. (accoa);
    \draw[f38,dualye] (lacc) -- (pyr);
    \draw[f38,backye] (nadC) .. controls +(8,0) and +(0,8) .. (ldhc);
    \draw[f38,fwd] (ldhc) .. controls +(0,-15) and +(8,0) .. (nadhC);
    \draw[f38,fwd] (ldhc) .. controls +(0,-10) and +(8,0) .. (hI);
    \draw[nd] (lacc) -- (lace);
    \draw[nd] (hJ) .. controls +(-10,0) and +(0,-20) .. (dlactc);
    \draw[nd] (dlactc) .. controls +(0,20) and +(-10,0) .. (heB);
    \draw[nd] (forc) .. controls +(-15,10) and +(0,-40) .. (fort2c);
    \draw[nd] (fort2c) .. controls +(0,40) and +(-15,-5) .. (fore);
    \draw[nd] (hK) .. controls +(15,0) and +(0,-10) .. (fort2c);
    \draw[nd] (fort2c) .. controls +(0,10) and +(15,0) .. (heC);
    \draw[nd] (forc) -- (fore);
    \draw[nd] (accoa) -- (actp);
    \draw[nd] (piE) .. controls +(-15,0) and +(0,-5) .. (ptarc);
    \draw[nd] (ptarc) .. controls +(0,5) and +(-15,0) .. (coaC);
    \draw[nd] (actp) -- (acc);
    \draw[nd] (adpD) .. controls +(-15,0) and +(0,-5) .. (ackrc);
    \draw[nd] (ackrc) .. controls +(0,5) and +(-15,0) .. (atpF);
    \draw[nd] (acc) -- (ace);
    \draw[nd] (hL) .. controls +(-15,0) and +(0,-25) .. (act2c);
    \draw[nd] (act2c) .. controls +(0,25) and +(-15,0) .. (heD);
    \draw[nd] (acald) -- (accoa);
    \draw[nd] (acaldc) .. controls +(-15,0) and +(0,8) .. (nadhD);
    \draw[nd] (acaldc) .. controls +(-5,0) and +(0,8) .. (hM);
    \draw[nd] (nadD) .. controls +(0,8) and +(5,0) .. (acaldc);
    \draw[nd] (coaD) .. controls +(0,8) and +(15,0) .. (acaldc);
    \draw[nd] (acald) -- (etoh);
    \draw[nd] (nadhE) .. controls +(0,15) and +(-3,-8) .. (alcdc);
    \draw[nd] (hN) .. controls +(0,10) and +(-2,-5) .. (alcdc);
    \draw[nd] (alcdc) .. controls +(8,5) and +(-5,5) .. (nadE);
    \draw[nd] (acald) -- (acalde);
    \draw[nd] (etoh) -- (etohe);
    \draw[nd] (hO) .. controls +(-15,0) and +(0,-25) .. (etohtc);
    \draw[nd] (etohtc) .. controls +(0,25) and +(-15,0) .. (heE);
    \draw[nd] (piF) -- (pie);
    \draw[nd] (hP) .. controls +(15,0) and +(0,-20) .. (pit2c);
    \draw[nd] (pit2c) .. controls +(0,20) and +(15,0) .. (heF);

    % malic enzymes
    \draw[nd] (mal) -- (pyr);
    \draw[nd] (nadK) .. controls +(0,12) and +(5,-5) .. (me1c);
    \draw[nd] (me1c) .. controls +(-20,8) and +(10,0) .. (nadhI);
    \draw[nd] (me1c) .. controls +(-25,10) and +(10,0) .. (co2H);
    \draw[nd] (mal) .. controls +(-50,35) and +(40,-15) .. (me2c);
    \draw[nd] (me2c) .. controls +(-60,22) and +(80,-30) .. (pyr);
    \draw[nd] (nadpE) .. controls +(-15,0) and +(8,-3) .. (me2c);
    \draw[nd] (me2c) .. controls +(-5,5) and +(-5,0) .. (nadphE);
    \draw[nd] (me2c) .. controls +(-3,8) and +(-5,0) .. (co2I);

    % TCA cycle and glyoxylate shunt
    \draw[f100,dual] (fum) .. controls +(-25,10) and +(5,-25) .. (mal);
    \draw[f100,back] (h2oK) .. controls +(0,8) and +(3,-5) .. (fumc);
    \draw[f100,back] (mal) .. controls +(-10,20) and +(0,-25) .. (mdhc);
    \draw[f100,fwd] (mdhc) .. controls +(0,30) and +(-15,-5) .. (oaa);
    \draw[f100,back] (nadJ) .. controls +(-12,0) and +(0,-10) .. (mdhc);
    \draw[f100,fwd] (mdhc) .. controls +(0,5) and +(-10,0) .. (hAB);
    \draw[f100,fwd] (mdhc) .. controls +(0,15) and +(-10,0) .. (nadhJ);
    \draw[f100] (glx) -- (malsc);
    \draw[f100,fwd] (malsc) -- (mal);
    \draw[f100] (accoaB) .. controls +(-12,3) and +(8,5) .. (malsc);
    \draw[f100] (h2oL) .. controls +(-20,0) and +(10,8) .. (malsc);
    \draw[f100,fwd] (malsc) .. controls +(-12,-6) and +(0,12) .. (coaG);
    \draw[f100,fwd] (malsc) .. controls +(-5,-8) and +(0,12) .. (hAA);
    \draw[f100] (succ) .. controls +(-20,-10) and +(25,0) .. (sucdc);
    \draw[f100,fwd] (sucdc) .. controls +(-30,0) and +(20,-12) .. (fum);
    \draw[f100] (q8B) .. controls +(0,10) and +(8,0) .. (sucdc);
    \draw[f100,fwd] (sucdc) .. controls +(-15,0) and +(0,10) .. (q8h2B);
    \draw[nd] (fum) .. controls +(10,-40) and +(-40,0) .. (frdc);
    \draw[nd] (frdc) .. controls +(40,0) and +(-5,-40) .. (succ);
    \draw[nd] (frdc) .. controls +(-30,0) and +(0,-12) .. (q8h2B);
    \draw[nd] (frdc) .. controls +(10,0) and +(0,-12) .. (q8B);
    \draw[f100] (oaa) .. controls +(15,8) and +(-10,-15) .. (csc);
    \draw[f100] (accoa) .. controls +(10,-50) and +(-40,-20) .. (csc);
    \draw[f100] (h2oM) .. controls +(12,0) and +(-8,-3) .. (csc);
    \draw[f100,fwd] (csc) .. controls +(15,8) and +(-12,-2) .. (cit);
    \draw[f100,fwd] (csc) .. controls +(0,20) and +(5,-15) .. (coaH);
    \draw[f100,fwd] (csc) .. controls +(8,20) and +(0,-15) .. (hAC);
    \draw[f100,back] (cit) .. controls +(10,3) and +(-8,-3) .. (acac);
    \draw[f100,fwd] (acac) .. controls +(8,3) and +(-10,0) .. (aconC);
    \draw[f100,fwd] (acac) .. controls +(5,-3) and +(-8,3) .. (h2oJ);
    \draw[f100,back] (aconC) .. controls +(10,0) and +(-5,3) .. (acbc);
    \draw[f100,back] (h2oJ) .. controls +(10,0) and +(-5,-3) .. (acbc);
    \draw[f100,fwd] (acbc) .. controls +(8,-3) and +(-10,3) .. (icit);
    \draw[f100] (icit) -- (iclc);
    \draw[f100,fwd] (iclc) -- (succ);
    \draw[f100,fwd] (iclc) .. controls +(0,-30) and +(20,0) .. (glx);
    \draw[f78,backam] (icit) .. controls +(10,-5) and +(-10,15) .. (icdc);
    \draw[f78,backam] (nadpD) .. controls +(0,-10) and +(-8,15) .. (icdc);
    \draw[f78,fwd] (icdc) .. controls +(12,-15) and +(-5,8) .. (akg);
    \draw[f78,fwd] (icdc) .. controls +(3,-8) and +(8,3) .. (co2F);
    \draw[f78,fwd] (icdc) .. controls +(8,-15) and +(5,5) .. (nadphD);
    \draw[nd] (akg) .. controls +(0,-20) and +(0,20) .. (akgdhc);
    \draw[nd] (akgdhc) .. controls +(0,-15) and +(3,12) .. (succoa);
    \draw[nd] (coaE) .. controls +(8,0) and +(0,8) .. (akgdhc);
    \draw[nd] (nadI) .. controls +(8,0) and +(0,12) .. (akgdhc);
    \draw[nd] (akgdhc) .. controls +(0,-10) and +(-8,0) .. (nadhH);
    \draw[nd] (akgdhc) .. controls +(0,-5) and +(-10,0) .. (co2G);
    \draw[nd] (succoa) .. controls +(-5,-20) and +(15,15) .. (sucoasc);
    \draw[nd] (sucoasc) .. controls +(-15,-15) and +(10,5) .. (succ);
    \draw[nd] (coaF) .. controls +(10,-5) and +(-8,-5) .. (sucoasc);
    \draw[nd] (atpH) .. controls +(10,-5) and +(-8,0) .. (sucoasc);
    \draw[nd] (sucoasc) .. controls +(10,5) and +(-10,0) .. (piI);
    \draw[nd] (sucoasc) .. controls +(10,10) and +(-10,0) .. (adpF);
    \draw[nd] (succ) .. controls +(100,-8) and +(-60,-3) .. (sc3);
    \draw[nd] (hX) .. controls +(50,0) and +(0,-12) .. (sc3);
    \draw[nd] (sc3) .. controls +(10,3) and +(-5,0) .. (succe);
    \draw[nd] (sc3) .. controls +(-80,0) and +(-80,0) .. (heN);
    \draw[nd] (succ) .. controls +(80,20) and +(-150,0) .. (sc2);
    \draw[nd] (sc2) .. controls +(45,0) and +(0,15) .. (succe);
    \draw[nd] (sc2) .. controls +(-40,0) and +(0,-12) .. (hY);
    \draw[nd] (sc2) .. controls +(30,0) and +(0,-12) .. (heO);
    \draw[nd] (akg) .. controls +(30,-60) and +(-120,0) .. (akgtc);
    \draw[nd] (akgtc) -- (akge);
    \draw[nd] (akgtc) .. controls +(-35,0) and +(0,-15) .. (hZ);
    \draw[nd] (akgtc) .. controls +(30,0) and +(0,-15) .. (heP);

    % nitrogen
    \draw[f100,back] (glu) -- (gludyc);
    \draw[f100,fwd] (gludyc) -- (akg);
    \draw[f100,back] (nadpH) .. controls +(0,10) and +(5,0) .. (gludyc);
    \draw[f100,back] (h2oQ) .. controls +(0,10) and +(10,0) .. (gludyc);
    \draw[f100,fwd] (gludyc) .. controls +(-20,0) and +(0,10) .. (nh4B);
    \draw[f100,fwd] (gludyc) .. controls +(-12,0) and +(0,10) .. (nadphH);
    \draw[f100,fwd] (gludyc) .. controls +(-5,0) and +(0,10) .. (hAI);
    \draw[f38] (akg) .. controls (785,740) and (840,770) .. (glusyc);
    \draw[f38] (gln) .. controls +(-10,-5) and +(0,15) .. (glusyc);
    \draw[f38] (nadphF) -- (glusyc);
    \draw[f38] (hAD) .. controls +(10,0) and +(-5,5) .. (glusyc);
    \draw[f38,fwd] (glusyc) .. controls +(0,-20) and +(8,5) .. (nadpF);
    \draw[f38,fwd] (glusyc) .. controls +(0,-30) and +(-5,15) .. (glu);
    \draw[f38] (gln) -- (glunc);
    \draw[f38,fwd] (glunc) -- (glu);
    \draw[f38] (h2oN) .. controls +(5,-3) and +(0,8) .. (glunc);
    \draw[f38,fwd] (glunc) .. controls +(0,-12) and +(5,3) .. (nh4C);
    \draw[nd] (glu) .. controls +(20,5) and +(0,-25) .. (glnsc);
    \draw[nd] (glnsc) .. controls +(0,25) and +(20,-5) .. (gln);
    \draw[nd] (atpI) .. controls +(-10,0) and +(0,-12) .. (glnsc);
    \draw[nd] (nh4D) .. controls +(-10,0) and +(0,-8) .. (glnsc);
    \draw[nd] (glnsc) .. controls +(0,10) and +(-10,0) .. (adpG);
    \draw[nd] (glnsc) .. controls +(0,15) and +(-10,0) .. (hAE);
    \draw[nd] (glnsc) .. controls +(0,20) and +(-10,0) .. (piJ);
    \draw[nd] (glu) -- (glue);
    \draw[nd] (glutc) .. controls +(-30,0) and +(0,-8) .. (hAF);
    \draw[nd] (glutc) .. controls +(30,0) and +(0,-8) .. (heQ);
    \draw[nd] (gln) .. controls +(15,12) and +(-20,0) .. (glnabc);
    \draw[nd] (glnabc) -- (glne);
    \draw[nd] (glnabc) .. controls +(-20,0) and +(0,-12) .. (piK);
    \draw[nd] (glnabc) .. controls +(-12,0) and +(0,-12) .. (hAG);
    \draw[nd] (glnabc) .. controls +(-5,0) and +(0,-12) .. (adpH);
    \draw[nd] (h2oO) .. controls +(0,-12) and +(5,0) .. (glnabc);
    \draw[nd] (atpJ) .. controls +(0,-12) and +(12,0) .. (glnabc);

    % cofactors and respiration
    \draw[nd] (heI) -- (hS);
    \draw[nd] (nadpC) .. controls +(0,-130) and +(-5,-20) .. (thd2c);
    \draw[nd] (nadhF) .. controls +(0,-80) and +(-5,-15) .. (thd2c);
    \draw[nd] (thd2c) .. controls +(5,40) and +(0,-60) .. (nadphC);
    \draw[nd] (thd2c) .. controls +(3,30) and +(0,-30) .. (nadF);
    \draw[f78,fwd] (nadphC) -- (nadpC);
    \draw[f78] (nadF) .. controls +(0,15) and +(8,0) .. (nadtrc);
    \draw[f78,fwd] (nadtrc) .. controls +(-20,0) and +(0,12) .. (nadhF);
    \draw[f100,back] (ampB) .. controls +(10,10) and +(0,-10) .. (adk1c);
    \draw[f100,back] (atpG) .. controls +(-10,10) and +(0,-10) .. (adk1c);
    \draw[f100,fwd] (adk1c) .. controls +(0,30) and +(-5,-15) .. (adpE);
    \draw[nd] (atpG) -- (adpE);
    \draw[nd] (h2oG) .. controls +(-12,0) and +(0,-10) .. (atpmc);
    \draw[nd] (atpmc) .. controls +(0,12) and +(-12,0) .. (hU);
    \draw[nd] (atpmc) .. controls +(0,20) and +(-12,0) .. (piG);
    \draw[f100,back] (adpE) .. controls +(90,0) and +(15,50) .. (atps4c);
    \draw[f100,back] (piH) .. controls +(40,0) and +(10,25) .. (atps4c);
    \draw[f100,back] (heJ) -- (atps4c);
    \draw[f100,fwd] (atps4c) .. controls +(-50,0) and +(30,5) .. (atpG);
    \draw[f100,fwd] (atps4c) .. controls +(-25,0) and +(3,10) .. (h2oH);
    \draw[f100,fwd] (atps4c) .. controls +(-35,0) and +(8,0) .. (hT);
    \draw[nd] (o2c) -- (o2e);
    \draw[f100] (o2c) .. controls +(5,25) and +(-20,0) .. (cytc);
    \draw[f100] (hV) -- (cytc);
    \draw[f100] (q8h2) .. controls +(-10,-30) and +(-5,10) .. (cytc);
    \draw[f100,fwd] (cytc) -- (heK);
    \draw[f100,fwd] (cytc) .. controls +(60,0) and +(60,0) .. (h2oI);
    \draw[f100,fwd] (cytc) .. controls +(40,0) and +(0,-35) .. (q8);
    \draw[f100] (hW) -- (nadhc);
    \draw[f100,fwd] (nadhc) -- (heM);
    \draw[f100] (nadhG) .. controls +(0,15) and +(-20,0) .. (nadhc);
    \draw[f100] (q8) .. controls +(-10,40) and +(-15,-10) .. (nadhc);
    \draw[f100,fwd] (nadhc) .. controls +(15,-10) and +(10,40) .. (q8h2);
    \draw[f100,fwd] (nadhc) .. controls +(45,0) and +(40,0) .. (nadG);

    % biomass
    \foreach \m/\d in {nadphG/90, glnB/90, pepC/85, pg3B/80, accoaC/70, g6pB/60, e4pB/55, nadL/45, pyrC/35, f6pC/25, atpK/15}
      \draw[f100] (\m) .. controls +(\d,0) and +(-30,0) .. (bio);
    \foreach \m in {r5pB, oaaB, g3pC, h2oP}
      \draw[f100] (\m) .. controls +(-15,0) and +(0,-40) .. (bio);
    \draw[f100] (gluB) .. controls +(-20,0) and +(15,-10) .. (bio);
    \foreach \m in {piL, nadpG, nadhK, coaI, hAH}
      \draw[f100,fwd] (bio) .. controls +(-5,15) and +(25,-5) .. (\m);
    \foreach \m in {adpI, akgB}
      \draw[f100,fwd] (bio) .. controls +(0,25) and +(-20,0) .. (\m);
  \end{pgfonlayer}
\end{tikzpicture}
\end{document}
